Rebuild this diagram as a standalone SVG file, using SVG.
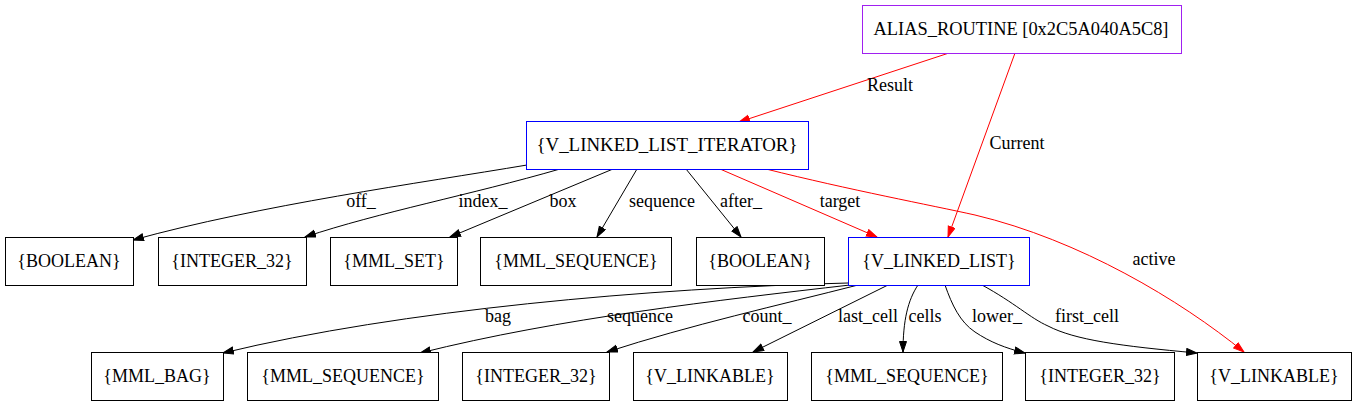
<svg xmlns="http://www.w3.org/2000/svg" width="1357" height="407" viewBox="0 0 1357 407">
<style>
text{font-family:"Liberation Serif","Times New Roman",serif;font-size:18px;fill:#000}
.n text{text-anchor:middle}
.n rect{fill:#fff;stroke:#000;stroke-width:1}
.blue rect{stroke:#0000ff}
.purple rect{stroke:#a020f0}
.e{fill:none;stroke:#000;stroke-width:1}
.r{stroke:#ff0000}
.lbl{text-anchor:middle}
</style>
<defs>
<marker id="ab" markerUnits="userSpaceOnUse" markerWidth="13" markerHeight="10" refX="11" refY="4" orient="auto"><path d="M0.5,0.5 L11,4 L0.5,7.5 Z" fill="#000" stroke="#000"/></marker>
<marker id="ar" markerUnits="userSpaceOnUse" markerWidth="13" markerHeight="10" refX="11" refY="4" orient="auto"><path d="M0.5,0.5 L11,4 L0.5,7.5 Z" fill="#ff0000" stroke="#ff0000"/></marker>
</defs>
<rect width="1357" height="407" fill="#fff"/>
<g id="connectors">
<path class="e r" marker-end="url(#ar)" d="M949,53 L739,122"/>
<text class="lbl" x="890" y="91">Result</text>
<path class="e r" marker-end="url(#ar)" d="M1015,53 L948,237"/>
<text class="lbl" x="1017" y="149">Current</text>
<path class="e" marker-end="url(#ab)" d="M527,165 C420,183 260,205 133,240"/>
<text class="lbl" x="361" y="207">off_</text>
<path class="e" marker-end="url(#ab)" d="M560,169 C470,195 380,212 305,237"/>
<text class="lbl" x="483" y="207">index_</text>
<path class="e" marker-end="url(#ab)" d="M613,169 L450,237"/>
<text class="lbl" x="563" y="207">box</text>
<path class="e" marker-end="url(#ab)" d="M637,169 L597,237"/>
<text class="lbl" x="662" y="207">sequence</text>
<path class="e" marker-end="url(#ab)" d="M686,169 L741,237"/>
<text class="lbl" x="741" y="207">after_</text>
<path class="e r" marker-end="url(#ar)" d="M720,169 L877,237"/>
<text class="lbl" x="840" y="207">target</text>
<path class="e r" marker-end="url(#ar)" d="M766,169 C850,190 930,205 975,215 C1080,240 1180,300 1244,352"/>
<text class="lbl" x="1154" y="265">active</text>
<path class="e" marker-end="url(#ab)" d="M848,283 C650,288 400,310 223,353"/>
<text class="lbl" x="498" y="322">bag</text>
<path class="e" marker-end="url(#ab)" d="M850,285 C720,300 560,318 420,353"/>
<text class="lbl" x="640" y="322">sequence</text>
<path class="e" marker-end="url(#ab)" d="M858,285 C780,305 690,325 607,352"/>
<text class="lbl" x="767" y="322">count_</text>
<path class="e" marker-end="url(#ab)" d="M888,285 L753,352"/>
<text class="lbl" x="868" y="322">last_cell</text>
<path class="e" marker-end="url(#ab)" d="M918,285 C908,300 903,320 903,352"/>
<text class="lbl" x="925" y="322">cells</text>
<path class="e" marker-end="url(#ab)" d="M945,285 C952,305 960,322 975,332 C990,342 1005,348 1025,353"/>
<text class="lbl" x="997" y="322">lower_</text>
<path class="e" marker-end="url(#ab)" d="M982,285 C1015,303 1030,318 1048,326 C1075,340 1120,346 1197,353"/>
<text class="lbl" x="1087" y="322">first_cell</text>
</g>
<g id="alias_routine" class="n purple"><rect x="862.5" y="5.5" width="319" height="48"/><text x="1021" y="35" textLength="295" lengthAdjust="spacingAndGlyphs">ALIAS_ROUTINE [0x2C5A040A5C8]</text></g>
<g id="iterator" class="n blue"><rect x="526.5" y="121.5" width="282" height="48"/><text x="667" y="151" textLength="261" lengthAdjust="spacingAndGlyphs">{V_LINKED_LIST_ITERATOR}</text></g>
<g id="boolean1" class="n"><rect x="5.5" y="237.5" width="128" height="48"/><text x="69" y="267">{BOOLEAN}</text></g>
<g id="integer1" class="n"><rect x="158.5" y="237.5" width="148" height="48"/><text x="232" y="267">{INTEGER_32}</text></g>
<g id="mml_set" class="n"><rect x="330.5" y="237.5" width="127" height="48"/><text x="394" y="267">{MML_SET}</text></g>
<g id="mml_seq1" class="n"><rect x="480.5" y="237.5" width="191" height="48"/><text x="576" y="267">{MML_SEQUENCE}</text></g>
<g id="boolean2" class="n"><rect x="696.5" y="237.5" width="128" height="48"/><text x="760" y="267">{BOOLEAN}</text></g>
<g id="linked_list" class="n blue"><rect x="848.5" y="237.5" width="181" height="48"/><text x="939" y="267">{V_LINKED_LIST}</text></g>
<g id="mml_bag" class="n"><rect x="91.5" y="352.5" width="132" height="48"/><text x="157" y="382">{MML_BAG}</text></g>
<g id="mml_seq2" class="n"><rect x="247.5" y="352.5" width="191" height="48"/><text x="343" y="382">{MML_SEQUENCE}</text></g>
<g id="integer2" class="n"><rect x="462.5" y="352.5" width="147" height="48"/><text x="536" y="382">{INTEGER_32}</text></g>
<g id="linkable1" class="n"><rect x="633.5" y="352.5" width="154" height="48"/><text x="710" y="382">{V_LINKABLE}</text></g>
<g id="mml_seq3" class="n"><rect x="811.5" y="352.5" width="191" height="48"/><text x="907" y="382">{MML_SEQUENCE}</text></g>
<g id="integer3" class="n"><rect x="1025.5" y="352.5" width="149" height="48"/><text x="1100" y="382">{INTEGER_32}</text></g>
<g id="linkable2" class="n"><rect x="1197.5" y="352.5" width="154" height="48"/><text x="1274" y="382">{V_LINKABLE}</text></g>
</svg>
